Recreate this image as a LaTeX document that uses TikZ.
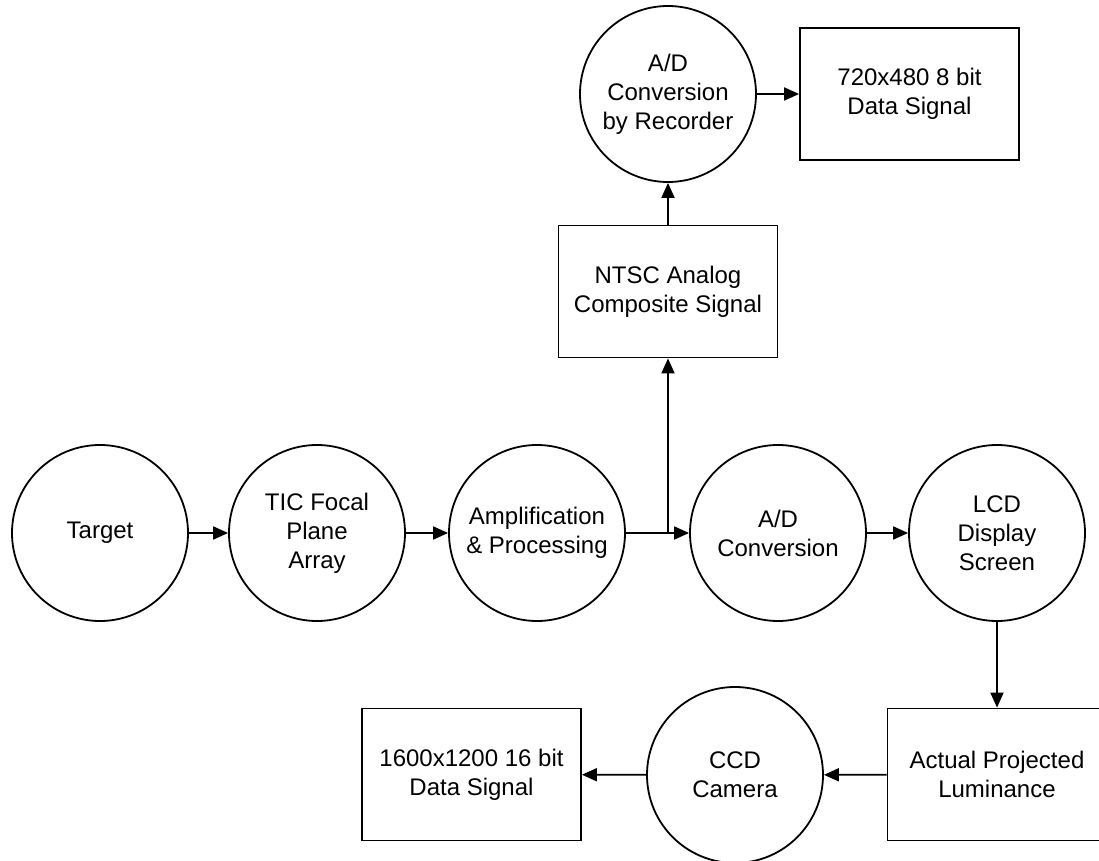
\documentclass[tikz,border=0pt]{standalone}
\usepackage{fontspec}
\setmainfont{Liberation Sans}
\usetikzlibrary{arrows.meta,positioning,calc}

\begin{document}
\begin{tikzpicture}[x=0.5pt,y=-0.5pt,line width=0.9pt,
        >={Triangle[length=7.5pt,width=6.5pt]},
        stage/.style={draw,circle,minimum size=88pt,inner sep=0pt,align=center,
            font=\fontsize{12}{14.5}\selectfont},
        signal/.style={draw,rectangle,minimum width=109.5pt,minimum height=66pt,
            inner sep=0pt,align=center,font=\fontsize{12}{14.5}\selectfont}]
        % frame of the picture
        \useasboundingbox (0,0) rectangle (1099,861);
        \clip (0,0) rectangle (1099,861);

        % main chain of the camera
        \node[stage] (target) at (100,533) {Target};
        \node[stage] (tic)    at (317,533) {TIC Focal\\Plane\\Array};
        \node[stage] (amp)    at (537,533) {Amplification\\\& Processing};
        \node[stage] (adc)    at (778,533) {A/D\\Conversion};
        \node[stage] (lcd)    at (997,533) {LCD\\Display\\Screen};

        % video output branch
        \node[signal] (ntsc) at (668,291.5) {NTSC Analog\\Composite Signal};
        \node[stage]  (rec)  at (668,94) {A/D\\Conversion\\by Recorder};
        \node[signal] (vid)  at (909.5,94) {720x480 8 bit\\Data Signal};

        % measurement of the screen
        \node[signal] (lum)    at (997,774.5) {Actual Projected\\Luminance};
        \node[stage]  (ccd)    at (735,775) {CCD\\Camera};
        \node[signal] (ccdout) at (471.5,774.5) {1600x1200 16 bit\\Data Signal};

        \foreach \a/\b in {target/tic, tic/amp, amp/adc, adc/lcd, ntsc/rec, rec/vid, lum/ccd, ccd/ccdout}
                \draw[->] (\a) -- (\b);

        \coordinate (split) at (ntsc.south |- amp.east);
        \draw[->] (split) -- (ntsc.south);
        \draw[->] (lcd.south) -- (lum.north);
\end{tikzpicture}
\end{document}
